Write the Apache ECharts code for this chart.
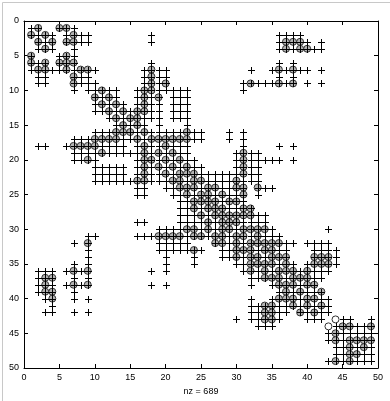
<!DOCTYPE html>
<html>
<head>
<meta charset="utf-8">
<script src="https://cdn.jsdelivr.net/npm/echarts@6/dist/echarts.min.js"></script>
<style>
  html, body { margin: 0; padding: 0; background: #fff; }
  #chart_spy { width: 390px; height: 401px; }
</style>
</head>
<body>
<div id="chart_spy"></div>
<script>
// sparsity pattern, 49x49 symmetric matrix (spy plot)
const axisMin = 0;
const axisMax = 50;
const tickStep = 5;
const xLabel = 'nz = 689';

// lower triangle, one string per row (row 1..49): "<col><mark>"
// mark: '+' plain entry, 'o' entry with ring, 'O' ring only
const lowerRows = [
  '1+',
  '1o 2+',
  '2o 3+',
  '2+ 3o 4+',
  '1o 5+',
  '1o 2+ 3o 5o 6o',
  '1+ 2o 3o 4+ 5+ 6o 7+',
  '2+ 3+ 7o 8+',
  '2+ 3+ 7o 8+ 9+',
  '7+ 9+ 10+',
  '10o 11+',
  '10+ 11o 12+',
  '10+ 11+ 12o 13+',
  '12+ 13o 14+',
  '13+ 14o 15+',
  '10+ 11+ 12+ 13o 14o 15o 16+',
  '7+ 8+ 9+ 10o 11o 12o 13o 14+ 15+ 16o 17+',
  '2+ 3+ 6+ 7o 8o 9o 10o 11+ 12+ 13+ 14+ 16+ 17o 18+',
  '7+ 8+ 9+ 10+ 11o 12+ 13+ 14+ 15+ 16+ 17o 18+ 19o',
  '7+ 8+ 9o 10+ 16+ 17o 18o 19+ 20o',
  '10+ 11+ 12+ 13+ 14+ 16+ 17o 18+ 19o 20+ 21o',
  '10+ 11+ 12+ 13+ 14+ 16+ 17o 18+ 19+ 20o 21+ 22o',
  '10+ 11+ 12+ 13+ 14+ 15+ 16o 17o 18+ 19+ 20+ 21o 22o 23+',
  '16+ 17+ 20+ 21+ 22o 23o 24o',
  '16+ 17+ 21+ 22+ 23o 24+ 25o',
  '22+ 23+ 24o 25o 26o',
  '22+ 23+ 24o 25+ 26o 27o',
  '22+ 23+ 24+ 25o 26+ 27o 28o',
  '16+ 17+ 22+ 23+ 24+ 25+ 26o 27+ 28o 29o',
  '19+ 20+ 21+ 22+ 23o 24o 25+ 26o 27+ 28o 29o 30+',
  '9+ 10+ 16+ 17+ 18+ 19o 20o 21o 22o 23+ 24o 25o 26+ 27o 28o 29+ 30o 31o',
  '7+ 9o 19+ 20+ 21+ 22+ 23+ 27o 28o 29+ 30o 31+ 32o',
  '9+ 19+ 20+ 21+ 22+ 23+ 24o 25+ 28+ 29+ 30o 31o 32o 33+',
  '9+ 20+ 24+ 28+ 29+ 30o 31+ 32o 33o 34+',
  '7+ 9+ 20+ 24+ 30+ 31+ 32o 33o 34o 35o',
  '2+ 3+ 4+ 6+ 7o 8+ 9o 18+ 20+ 31+ 32o 33+ 34o 35+ 36o',
  '2+ 3o 4o 7+ 9+ 32+ 33+ 34o 35o 36o 37+',
  '2+ 3o 4+ 6+ 7o 8+ 9o 18+ 20+ 32+ 35+ 36o 37o 38o',
  '2+ 3o 4o 7+ 36+ 37o 38+ 39o',
  '3+ 4o 7+ 9+ 32+ 35+ 36o 37o 38o 39+ 40o',
  '4+ 32+ 33+ 34o 35o 36+ 37+ 38o 39+ 40o 41+',
  '3+ 4+ 7+ 9+ 32+ 33+ 34o 35o 36+ 37+ 39o 40+ 41o 42+',
  '30+ 32+ 33+ 34o 35o 36+ 40+ 41+ 42+',
  '33+ 34+ 35+ 43O 44+',
  '43+ 44o 45+',
  '43+ 44o 45+ 46o',
  '44+ 45+ 46o 47+',
  '44+ 45+ 46o 47o 48+',
  '43+ 44o 45+ 46o 47+ 48+ 49+'
];

// expand to the full symmetric pattern
const crosses = [], rings = [], openRings = [];
lowerRows.forEach((line, i) => {
  const row = i + 1;
  line.split(' ').forEach(tok => {
    const col = parseInt(tok, 10);
    const mark = tok.slice(-1);
    const cells = col === row ? [[col, row]] : [[col, row], [row, col]];
    cells.forEach(p => {
      if (mark === 'O') {
        openRings.push(p);
      } else {
        crosses.push(p);
        if (mark === 'o') rings.push(p);
      }
    });
  });
});

const chart = echarts.init(document.getElementById('chart_spy'), null, {renderer: 'canvas'});

const fontFamily = '"Liberation Sans", Arial, sans-serif';
const tickStyle = {show: true, inside: true, length: 4, lineStyle: {color: '#000', width: 1}};
const lineStyle = {show: true, onZero: false, lineStyle: {color: '#000', width: 1}};

function ringItem(fill) {
  return function (params, api) {
    const p = api.coord([api.value(0), api.value(1)]);
    return {
      type: 'circle',
      shape: {cx: p[0], cy: p[1], r: 3.5},
      style: {fill: fill, stroke: '#333', lineWidth: 1}
    };
  };
}

function crossItem(params, api) {
  const p = api.coord([api.value(0), api.value(1)]);
  const h = 3.5;
  const x = Math.round(p[0]) + 0.5, y = Math.round(p[1]) + 0.5;
  return {
    type: 'group',
    children: [
      {type: 'line', shape: {x1: x - h, y1: y, x2: x + h, y2: y}, style: {stroke: '#000', lineWidth: 1}},
      {type: 'line', shape: {x1: x, y1: y - h, x2: x, y2: y + h}, style: {stroke: '#000', lineWidth: 1}}
    ]
  };
}

const option = {
  animation: false,
  backgroundColor: '#fff',
  // thin frame round the whole figure
  graphic: [{
    type: 'rect', left: 0, top: 0, silent: true,
    shape: {x: 0.5, y: 0.5, width: 389, height: 400},
    style: {fill: 'none', stroke: '#c8c8c8', lineWidth: 1}
  }],
  grid: {left: 24, top: 21, width: 354, height: 349, show: false},
  xAxis: [
    {
      type: 'value', min: axisMin, max: axisMax, interval: tickStep, position: 'bottom',
      axisLine: lineStyle, axisTick: tickStyle, splitLine: {show: false},
      axisLabel: {color: '#000', fontSize: 9, fontFamily: fontFamily, margin: 5},
      name: xLabel, nameLocation: 'middle', nameGap: 19,
      nameTextStyle: {color: '#000', fontSize: 9, fontFamily: fontFamily}
    },
    {
      type: 'value', min: axisMin, max: axisMax, interval: tickStep, position: 'top',
      axisLine: lineStyle, axisTick: tickStyle, splitLine: {show: false},
      axisLabel: {show: false}
    }
  ],
  yAxis: [
    {
      type: 'value', min: axisMin, max: axisMax, interval: tickStep, inverse: true, position: 'left',
      axisLine: lineStyle, axisTick: tickStyle, splitLine: {show: false},
      axisLabel: {color: '#000', fontSize: 9, fontFamily: fontFamily, margin: 5}
    },
    {
      type: 'value', min: axisMin, max: axisMax, interval: tickStep, inverse: true, position: 'right',
      axisLine: lineStyle, axisTick: tickStyle, splitLine: {show: false},
      axisLabel: {show: false}
    }
  ],
  series: [
    {type: 'custom', name: 'rings', data: rings, renderItem: ringItem('#b4b4b4'), silent: true},
    {type: 'custom', name: 'open', data: openRings, renderItem: ringItem('#fff'), silent: true},
    {type: 'custom', name: 'entries', data: crosses, renderItem: crossItem, silent: true}
  ]
};

chart.setOption(option);
</script>
</body>
</html>
